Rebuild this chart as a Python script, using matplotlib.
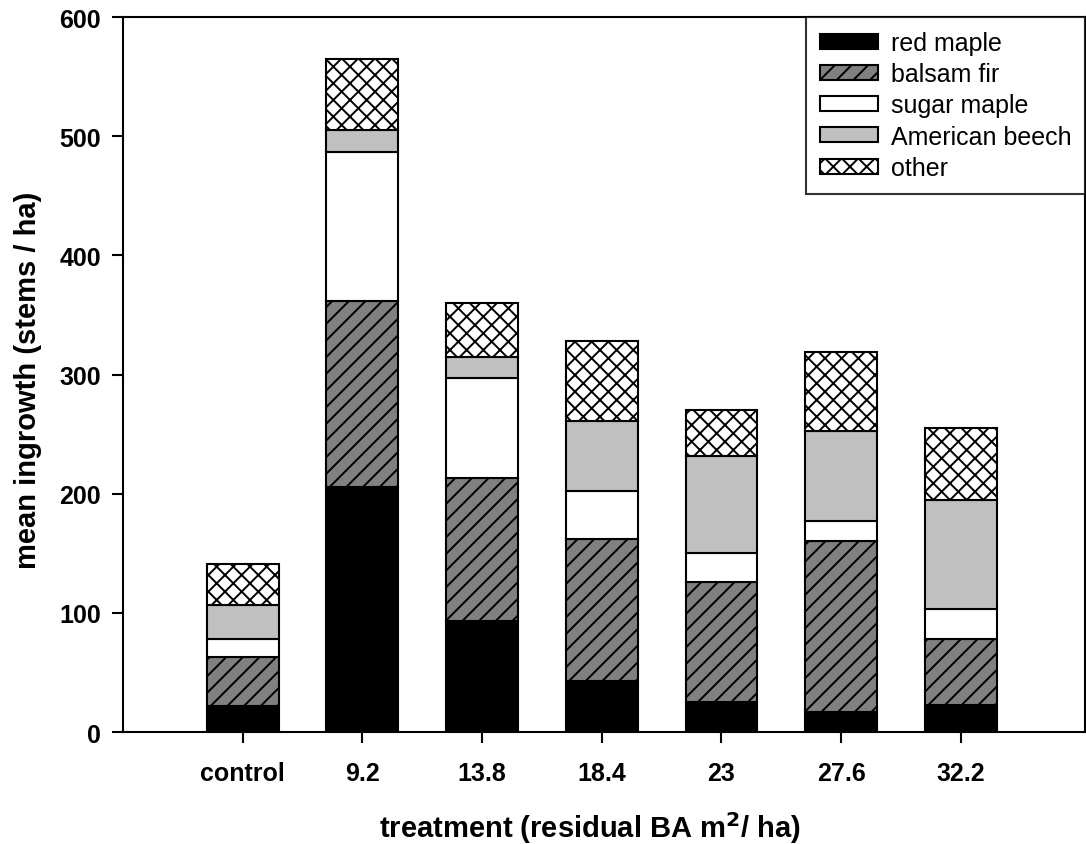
import matplotlib
matplotlib.use("Agg")
import matplotlib.pyplot as plt
import numpy as np

plt.rcParams["font.family"] = ["Liberation Sans", "DejaVu Sans"]
plt.rcParams["hatch.linewidth"] = 1.4

# tratamientos (área basal residual)
tratamientos = ["control", "9.2", "13.8", "18.4", "23", "27.6", "32.2"]

# ingreso medio por especie (tallos / ha)
red_maple = [22, 206, 93, 43, 25, 17, 23]
balsam_fir = [41, 156, 120, 119, 101, 143, 55]
sugar_maple = [15, 125, 84, 40, 24, 17, 25]
american_beech = [29, 18, 18, 59, 82, 76, 92]
other = [34, 60, 45, 67, 38, 66, 60]

especies = ["red maple", "balsam fir", "sugar maple", "American beech", "other"]
series = [red_maple, balsam_fir, sugar_maple, american_beech, other]
colores = ["black", "#808080", "white", "#c0c0c0", "white"]
tramas = [None, "//", None, None, "xx"]

fig = plt.figure(figsize=(10.86, 8.45), dpi=100)
ax = fig.add_axes([0.1133, 0.1325, 0.886, 0.846])

x = np.arange(len(tratamientos))
base = np.zeros(len(tratamientos))
for nombre, valores, color, trama in zip(especies, series, colores, tramas):
    ax.bar(x, valores, width=0.6, bottom=base, color=color, edgecolor="black",
           linewidth=1.5, hatch=trama, label=nombre)
    base += np.array(valores)

ax.set_xlim(-1.0, 7.04)
ax.set_ylim(0, 600)
ax.set_yticks([0, 100, 200, 300, 400, 500, 600])
ax.set_xticks(x)
ax.set_xticklabels(tratamientos)

for lado in ax.spines.values():
    lado.set_linewidth(1.5)

ax.tick_params(direction="out", length=8, width=1.5, labelsize=18, pad=8)
ax.tick_params(axis="x", pad=13)
for etiqueta in ax.get_xticklabels() + ax.get_yticklabels():
    etiqueta.set_fontweight("bold")

ax.set_ylabel("mean ingrowth (stems / ha)", fontsize=21, fontweight="bold")
ax.set_xlabel("treatment (residual BA m$^\\mathbf{2}$/ ha)", fontsize=21,
              fontweight="bold")
ax.yaxis.set_label_coords(-0.084, 0.494)
ax.xaxis.set_label_coords(0.485, -0.108)

ley = ax.legend(loc="upper right", bbox_to_anchor=(1.0, 1.0), borderaxespad=0,
                fontsize=18, frameon=True, fancybox=False, edgecolor="black",
                handlelength=2.35, handleheight=0.55, labelspacing=0.29,
                handletextpad=0.5, borderpad=0.55)
ley.get_frame().set_linewidth(1.5)

fig.savefig("out.png", dpi=100)
